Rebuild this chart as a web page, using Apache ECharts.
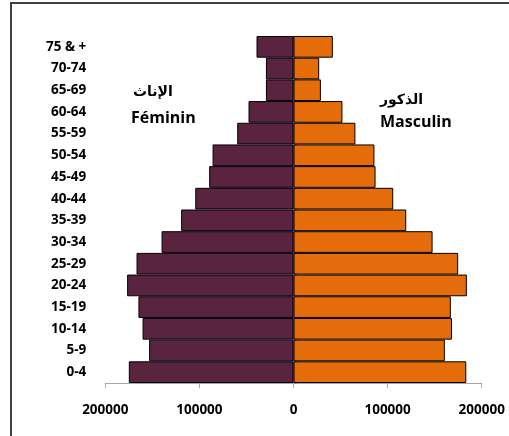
<!DOCTYPE html>
<html><head><meta charset="utf-8">
<script src="https://cdn.jsdelivr.net/npm/echarts@6/dist/echarts.min.js"></script>
<style>html,body{margin:0;padding:0;background:#fff}#c{width:509px;height:436px}</style>
</head><body><div id="c"></div>
<script>
const ageGroups = ['0-4','5-9','10-14','15-19','20-24','25-29','30-34','35-39','40-44','45-49','50-54','55-59','60-64','65-69','70-74','75 & +'];
const femaleValues = [175000,153400,160400,164800,176800,166800,140200,119400,104400,89600,86000,59800,47800,29300,29300,39300];
const maleValues = [183600,160800,168400,167200,184200,175000,147800,119800,106000,87200,86000,65800,52000,29100,27300,41800];
const xTicks = [-200000,-100000,0,100000,200000];
const femaleLabelAr = 'الإناث', femaleLabelFr = 'Féminin';
const maleLabelAr = 'الذكور', maleLabelFr = 'Masculin';

const FONT = "'Open Sans', 'DejaVu Sans', sans-serif";
const chart = echarts.init(document.getElementById('c'));
chart.setOption({
  animation:false,
  grid:{left:105.3, right:509-481.7, top:36, bottom:436-383, containLabel:false, outerBoundsMode:'none'},
  xAxis:{type:'value', min:xTicks[0], max:xTicks[xTicks.length-1], interval:100000,
    axisLine:{show:true, lineStyle:{color:'#a6a6a6', width:1}},
    axisTick:{show:true, length:5, lineStyle:{color:'#a6a6a6'}},
    splitLine:{show:false},
    axisLabel:{margin:20, color:'#000', fontFamily:FONT, fontWeight:'bold', fontSize:13.5,
      formatter:v=>String(Math.abs(v))}},
  yAxis:[
    {type:'category', data:ageGroups, position:'left',
      axisLine:{show:false, onZero:false}, axisTick:{show:false},
      axisLabel:{margin:19, color:'#000', fontFamily:FONT, fontWeight:'bold', fontSize:13.5}},
    {type:'category', data:ageGroups,
      axisLine:{show:true, onZero:true, lineStyle:{color:'#8c8c8c', width:1}},
      axisTick:{show:true, length:4, lineStyle:{color:'#8c8c8c'}},
      axisLabel:{show:false}}
  ],
  series:[
    {type:'bar', stack:'a', yAxisIndex:0, data:femaleValues.map(v=>-v), barCategoryGap:0,
      itemStyle:{color:'#5a2340', borderColor:'#000', borderWidth:1}},
    {type:'bar', stack:'a', yAxisIndex:0, data:maleValues, barCategoryGap:0,
      itemStyle:{color:'#e46c0a', borderColor:'#000', borderWidth:1}}
  ],
  graphic:[
    {type:'rect', shape:{x:11, y:3, width:600, height:600}, style:{fill:'none', stroke:'#3f3f3f', lineWidth:2}, z:-1},
    {type:'text', left:133, top:85, style:{text:femaleLabelAr, font:"bold 14px 'DejaVu Sans'", fill:'#000'}},
    {type:'text', left:131, top:110, style:{text:femaleLabelFr, font:"bold 16px 'Open Sans', 'DejaVu Sans'", fill:'#000'}},
    {type:'text', left:380, top:93, style:{text:maleLabelAr, font:"bold 14px 'DejaVu Sans'", fill:'#000'}},
    {type:'text', left:380, top:114, style:{text:maleLabelFr, font:"bold 16px 'Open Sans', 'DejaVu Sans'", fill:'#000'}}
  ]
});
</script></body></html>
